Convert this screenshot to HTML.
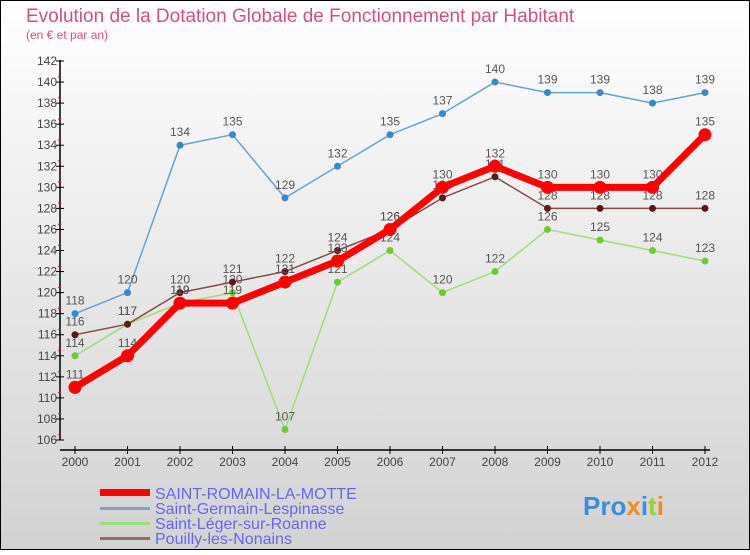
<!DOCTYPE html>
<html><head><meta charset="utf-8"><style>
body{margin:0;width:750px;height:550px;overflow:hidden;font-family:"Liberation Sans",sans-serif}
</style></head><body>
<svg width="750" height="550" xmlns="http://www.w3.org/2000/svg">
<defs><linearGradient id="bg" x1="0" y1="0" x2="0" y2="1"><stop offset="0" stop-color="#ffffff"/><stop offset="1" stop-color="#d2d2d2"/></linearGradient></defs>
<rect x="0.5" y="0.5" width="749" height="549" fill="url(#bg)" stroke="#000"/>
<text x="26" y="22" font-size="19" fill="#d0527a">Evolution de la Dotation Globale de Fonctionnement par Habitant</text>
<text x="26" y="39" font-size="12" fill="#d0527a">(en € et par an)</text>
<g id="axes"></g><g id="series"></g>
<g>
<rect x="100" y="489" width="50" height="7" fill="#f00"/>
<text x="155" y="499" font-size="16" fill="#6666ee">SAINT-ROMAIN-LA-MOTTE</text>
<rect x="100" y="507" width="50" height="3" fill="#7aa6cc"/>
<text x="155" y="514" font-size="16" fill="#6666ee">Saint-Germain-Lespinasse</text>
<rect x="100" y="522" width="50" height="3" fill="#9fdc7c"/>
<text x="155" y="529" font-size="16" fill="#6666ee">Saint-Léger-sur-Roanne</text>
<rect x="100" y="537" width="50" height="3" fill="#9a6a6a"/>
<text x="155" y="544" font-size="16" fill="#6666ee">Pouilly-les-Nonains</text>
</g>
<g font-size="26" font-weight="bold">
<text x="583" y="515"><tspan fill="#3a8fd8">Pro</tspan><tspan fill="#f28a1e">x</tspan><tspan fill="#3a8fd8">i</tspan><tspan fill="#9bcf3a">t</tspan><tspan fill="#f28a1e">i</tspan></text>
</g>
</svg>
<script>
const years=[2000,2001,2002,2003,2004,2005,2006,2007,2008,2009,2010,2011,2012];
const romain=[111,114,119,119,121,123,126,130,132,130,130,130,135];
const germain=[118,120,134,135,129,132,135,137,140,139,139,138,139];
const leger=[114,117,119,120,107,121,124,120,122,126,125,124,123];
const pouilly=[116,117,120,121,122,124,126,129,131,128,128,128,128];
const yTicks=[106,108,110,112,114,116,118,120,122,124,126,128,130,132,134,136,138,140,142];
const NS="http://www.w3.org/2000/svg";
const X=i=>75+i*52.5;
const Y=v=>440-(v-106)*(379/36);
function mk(t,a,p){const e=document.createElementNS(NS,t);for(const k in a)e.setAttribute(k,a[k]);p.appendChild(e);return e;}
const ax=document.getElementById('axes');
let l=mk('line',{x1:60,y1:60,x2:60,y2:440,stroke:'#000','stroke-width':1.5},ax);

l=mk('line',{x1:60,y1:450,x2:710,y2:450,stroke:'#000','stroke-width':1.5},ax);

yTicks.forEach((v,k)=>{
 const y=Y(v);
 const t=mk('line',{x1:56,y1:y,x2:64,y2:y,stroke:'#000'},ax);
 
 if(k<yTicks.length-1){
 const m=mk('line',{x1:58,y1:y-5.26,x2:61,y2:y-5.26,stroke:'#f00'},ax);
 
 }
 const tx=mk('text',{x:57,y:y+4,'font-size':12,fill:'#444','text-anchor':'end'},ax);tx.textContent=v;
 
});
years.forEach((yr,i)=>{
 const t=mk('line',{x1:X(i),y1:446,x2:X(i),y2:454,stroke:'#000'},ax);
 
 const tx=mk('text',{x:X(i),y:466,'font-size':12,fill:'#444','text-anchor':'middle'},ax);tx.textContent=yr;
 
});
const sg=document.getElementById('series');
function draw(vals,name,col,dot,w,r){
 const g=mk('g',{},sg);
 const p=mk('polyline',{points:vals.map((v,i)=>X(i)+','+Y(v)).join(' '),fill:'none',stroke:col,'stroke-width':w,'stroke-linejoin':'round'},g);
 
 vals.forEach((v,i)=>{
  const c=mk('circle',{cx:X(i),cy:Y(v),r:r,fill:dot},g);
  
  const t=mk('text',{x:X(i),y:Y(v)-9,'font-size':12,fill:'#555','text-anchor':'middle'},g);t.textContent=v;
  
 });
}
draw(leger,'saint-leger-series','#9fdc7c','#6fc83a',1.5,3.5);
draw(pouilly,'pouilly-series','#8a4a4a','#5a1a1a',1.5,3.5);
draw(germain,'saint-germain-series','#6aa0d0','#3a88cc',1.5,3.5);
draw(romain,'saint-romain-series','#f00','#f00',7,6.5);
</script>
</body></html>
